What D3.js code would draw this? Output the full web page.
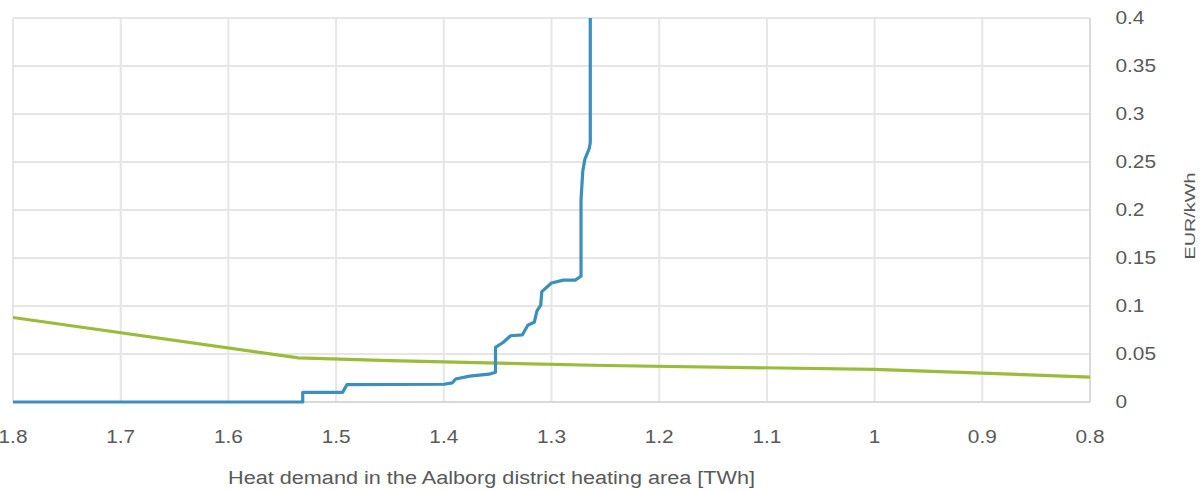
<!DOCTYPE html>
<html><head><meta charset="utf-8">
<script src="https://cdn.jsdelivr.net/npm/d3@7"></script>
<style>body{margin:0;background:#fff}svg{display:block}text{font-family:"Liberation Sans",Arial,sans-serif;fill:#595959}</style>
</head><body>
<svg id="c" width="1201" height="491"></svg>
<script>
const xTicks = [1.8,1.7,1.6,1.5,1.4,1.3,1.2,1.1,1,0.9,0.8];
const yTicks = [0,0.05,0.1,0.15,0.2,0.25,0.3,0.35,0.4];
const xTitle = "Heat demand in the Aalborg district heating area [TWh]";
const yTitle = "EUR/kWh";
// Blue series: stepped curve
const blueX = [1.8,1.531,1.531,1.494,1.490,1.40,1.392,1.389,1.376,1.358,1.352,1.352,1.345,1.338,1.327,1.322,1.316,1.3135,1.310,1.309,1.300,1.289,1.278,1.2726,1.2726,1.271,1.269,1.265,1.264,1.264];
const blueY = [0,0,0.010,0.010,0.018,0.0185,0.020,0.024,0.027,0.029,0.031,0.057,0.062,0.069,0.070,0.080,0.083,0.095,0.101,0.115,0.124,0.127,0.127,0.131,0.21,0.24,0.253,0.264,0.27,0.4];
// Green series
const greenX = [1.8,1.535,1.45,1.35,1.25,1.0,0.8];
const greenY = [0.088,0.046,0.043,0.0405,0.038,0.034,0.026];

const svg = d3.select("#c");
const L=13, R=1090, T=18, B=402;
const x = d3.scaleLinear().domain([1.8,0.8]).range([L,R]);
const y = d3.scaleLinear().domain([0,0.4]).range([B,T]);
const grid = "#e6e6e6";
const g = svg.append("g");
g.selectAll(".vg").data(xTicks).join("line").attr("x1",d=>x(d)).attr("x2",d=>x(d)).attr("y1",T).attr("y2",B).attr("stroke",grid).attr("stroke-width",2);
g.selectAll(".hg").data(yTicks).join("line").attr("x1",L).attr("x2",R).attr("y1",d=>y(d)).attr("y2",d=>y(d)).attr("stroke",grid).attr("stroke-width",2);
g.append("line").attr("x1",L).attr("x2",R).attr("y1",B).attr("y2",B).attr("stroke","#d9d9d9").attr("stroke-width",2);
g.append("line").attr("x1",R).attr("x2",R).attr("y1",T).attr("y2",B).attr("stroke","#dadada").attr("stroke-width",2);

const line = d3.line().x(d=>x(d[0])).y(d=>y(d[1]));
svg.append("path").datum(greenX.map((v,i)=>[v,greenY[i]])).attr("d",line).attr("fill","none").attr("stroke","#9bbb3b").attr("stroke-width",3.2).attr("stroke-linejoin","round");
svg.append("path").datum(blueX.map((v,i)=>[v,blueY[i]])).attr("d",line).attr("fill","none").attr("stroke","#3a8fbd").attr("stroke-width",3.2).attr("stroke-linejoin","round");

const sx = 1.19;
function stretch(sel, anchorX, anchorY){
  sel.attr("x",0).attr("y",0).attr("transform",`translate(${anchorX},${anchorY}) scale(${sx},1)`);
}
svg.selectAll(".xl").data(xTicks).join("text").attr("font-size",17.5).attr("text-anchor","middle")
  .each(function(d){ stretch(d3.select(this), x(d), 443); }).text(d=>String(d));
svg.selectAll(".yl").data(yTicks).join("text").attr("font-size",17.5).attr("text-anchor","start")
  .each(function(d){ stretch(d3.select(this), 1115.5, y(d)+6.3); }).text(d=>String(d));
svg.append("text").attr("font-size",18).attr("x",228).attr("y",484).attr("textLength",527).attr("lengthAdjust","spacingAndGlyphs").text(xTitle);
svg.append("text").attr("font-size",14.5).attr("text-anchor","middle").attr("transform","translate(1195,216) rotate(-90)")
  .attr("textLength",87).attr("lengthAdjust","spacingAndGlyphs").text(yTitle);
</script>
</body></html>
